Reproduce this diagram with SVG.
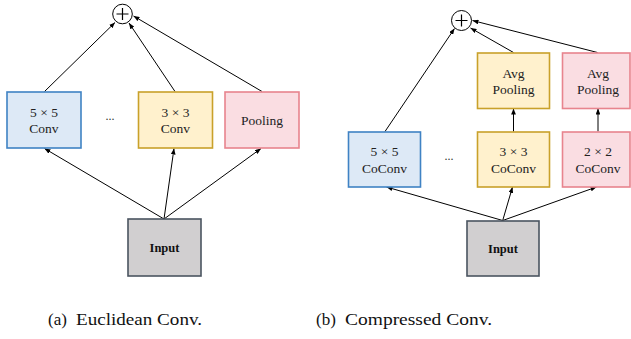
<svg xmlns="http://www.w3.org/2000/svg" width="631" height="339" viewBox="0 0 631 339">
<defs>
<marker id="ah" viewBox="0 0 10 8" refX="10" refY="4" markerWidth="6" markerHeight="4.8" markerUnits="userSpaceOnUse" orient="auto">
<path d="M0,0 L10,4 L0,8 z" fill="#000"/>
</marker>
</defs>
<style>
.blue{fill:#dde9f6;stroke:#3f82c4;stroke-width:1.6}
.yel{fill:#fff1cd;stroke:#c9a12a;stroke-width:1.6}
.pink{fill:#fadde2;stroke:#e8848e;stroke-width:1.6}
.gray{fill:#d1cfd0;stroke:#4a5460;stroke-width:1.6}
.t{font-size:13.5px;fill:#222;text-anchor:middle}
.b{font-size:12.5px;font-weight:bold;fill:#111;text-anchor:middle}
.cap{font-size:17px;fill:#111}
.c{fill:#fff;stroke:#000;stroke-width:1}
.pl{stroke:#000;stroke-width:1.2;fill:none}
.e{stroke:#000;stroke-width:1;fill:none;marker-end:url(#ah)}
.dots{font-size:12px;fill:#333;text-anchor:middle}
</style>
<rect width="631" height="339" fill="#fff"/>
<g id="connectors">
<line class="e" x1="164" y1="219" x2="44.5" y2="148.5"/>
<line class="e" x1="164" y1="219" x2="174" y2="148.5"/>
<line class="e" x1="164" y1="219" x2="261" y2="148.5"/>
<line class="e" x1="44.5" y1="91.5" x2="115" y2="22.5"/>
<line class="e" x1="175" y1="91.5" x2="129" y2="23"/>
<line class="e" x1="262" y1="91.5" x2="133.5" y2="16"/>
<line class="e" x1="502.7" y1="220.5" x2="386.5" y2="187"/>
<line class="e" x1="502.7" y1="220.5" x2="512.5" y2="187"/>
<line class="e" x1="502.7" y1="220.5" x2="596.5" y2="187"/>
<line class="e" x1="513.5" y1="131.5" x2="513.5" y2="108.5"/>
<line class="e" x1="598" y1="131.5" x2="598" y2="108.5"/>
<line class="e" x1="385" y1="131.5" x2="454.5" y2="28.5"/>
<line class="e" x1="513.5" y1="52.5" x2="470.5" y2="28"/>
<line class="e" x1="597.5" y1="52.5" x2="472.5" y2="20.5"/>
</g>
<g font-family="'Liberation Serif', 'DejaVu Serif', serif">
<g id="sum-a">
<circle class="c" cx="122.5" cy="14" r="9.8"/>
<path class="pl" d="M116.5,14 H128.5 M122.5,8 V20"/>
</g>
<g id="conv5-a">
<rect class="blue" x="7" y="92" width="74" height="56"/>
<text class="t" x="44" y="116.5">5 × 5</text>
<text class="t" x="44" y="133">Conv</text>
</g>
<text class="dots" x="110" y="120">...</text>
<g id="conv3-a">
<rect class="yel" x="138.5" y="92" width="74" height="56"/>
<text class="t" x="175.5" y="116.5">3 × 3</text>
<text class="t" x="175.5" y="133">Conv</text>
</g>
<g id="pool-a">
<rect class="pink" x="225" y="92" width="74" height="56"/>
<text class="t" x="262" y="124.5">Pooling</text>
</g>
<g id="input-a">
<rect class="gray" x="128" y="219" width="73" height="57"/>
<text class="b" x="164.5" y="251.5">Input</text>
</g>
<g id="sum-b">
<circle class="c" cx="461.5" cy="20.5" r="10"/>
<path class="pl" d="M455.5,20.5 H467.5 M461.5,14.5 V26.5"/>
</g>
<g id="coconv5-b">
<rect class="blue" x="348.5" y="132" width="72" height="55"/>
<text class="t" x="384.5" y="156">5 × 5</text>
<text class="t" x="384.5" y="172.5">CoConv</text>
</g>
<text class="dots" x="449" y="160">...</text>
<g id="coconv3-b">
<rect class="yel" x="477.5" y="132" width="72" height="55"/>
<text class="t" x="513.5" y="156">3 × 3</text>
<text class="t" x="513.5" y="172.5">CoConv</text>
</g>
<g id="avgpool3-b">
<rect class="yel" x="477.5" y="53" width="72" height="55.5"/>
<text class="t" x="513.5" y="77.5">Avg</text>
<text class="t" x="513.5" y="94">Pooling</text>
</g>
<g id="coconv2-b">
<rect class="pink" x="562.5" y="132" width="67.5" height="55"/>
<text class="t" x="598" y="156">2 × 2</text>
<text class="t" x="598" y="172.5">CoConv</text>
</g>
<g id="avgpool2-b">
<rect class="pink" x="562.5" y="53" width="67.5" height="55.5"/>
<text class="t" x="598" y="77.5">Avg</text>
<text class="t" x="598" y="94">Pooling</text>
</g>
<g id="input-b">
<rect class="gray" x="467" y="221" width="72" height="55"/>
<text class="b" x="503" y="253">Input</text>
</g>
<text class="cap" x="48" y="325">(a)</text>
<text class="cap" x="76" y="325" textLength="126" lengthAdjust="spacingAndGlyphs">Euclidean Conv.</text>
<text class="cap" x="316" y="325">(b)</text>
<text class="cap" x="345" y="325" textLength="147" lengthAdjust="spacingAndGlyphs">Compressed Conv.</text>
</g>
</svg>
